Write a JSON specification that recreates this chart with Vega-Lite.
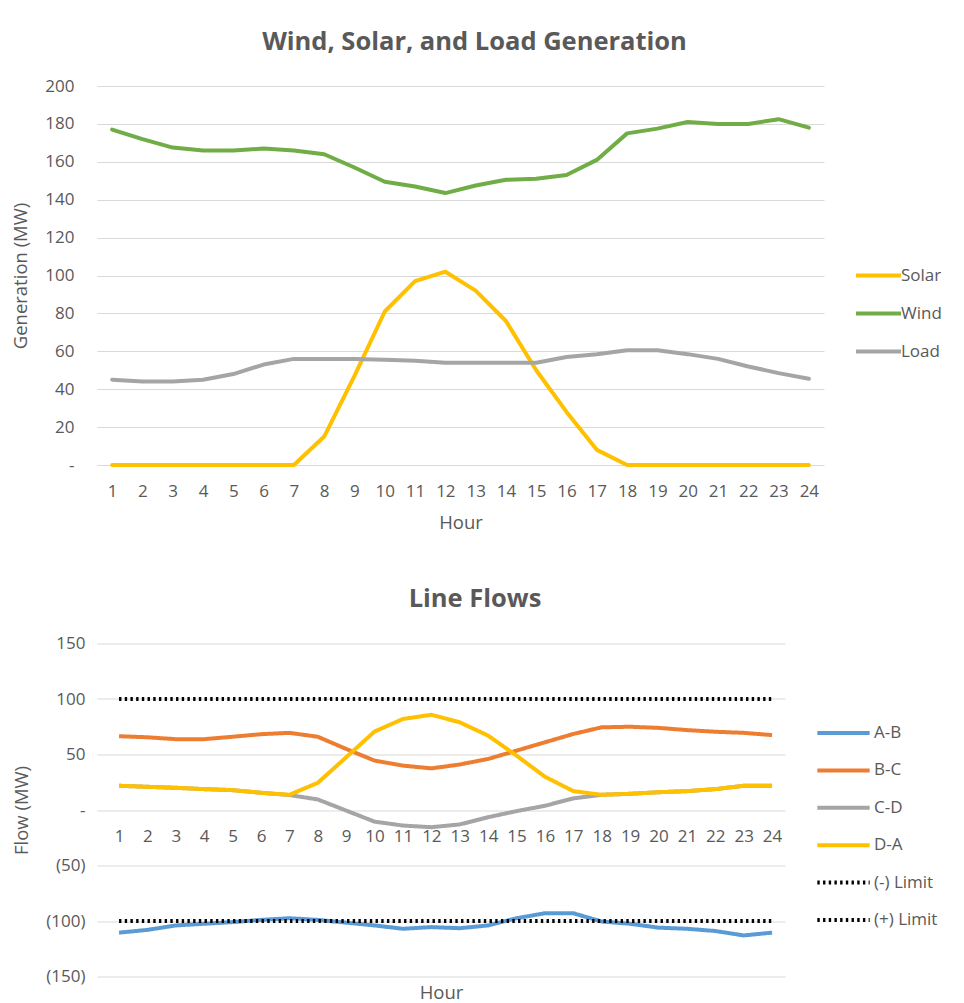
{
  "$schema": "https://vega.github.io/schema/vega-lite/v6.json",
  "padding": {"left": 11, "top": 29, "right": 5, "bottom": 2},
  "spacing": 54.5,
  "resolve": {
    "scale": {"color": "independent", "strokeDash": "independent", "strokeWidth": "independent"},
    "legend": {"color": "independent", "strokeDash": "independent", "strokeWidth": "independent"}
  },
  "config": {
    "font": "Open Sans",
    "view": {"stroke": null},
    "axis": {
      "labelFont": "Open Sans", "labelFontSize": 17, "labelColor": "#595959",
      "titleFont": "Open Sans", "titleFontSize": 18.5, "titleColor": "#595959", "titleFontWeight": "normal",
      "domain": false, "ticks": false, "gridColor": "#d9d9d9", "gridWidth": 1.2
    },
    "legend": {
      "labelFont": "Open Sans", "labelFontSize": 17, "labelColor": "#595959",
      "symbolType": "stroke", "symbolStrokeWidth": 4, "labelOffset": -2
    },
    "title": {"font": "Open Sans", "fontSize": 25.5, "fontWeight": "bold", "color": "#595959"}
  },
  "vconcat": [
    {
      "width": 727, "height": 379,
      "title": {"text": "Wind, Solar, and Load Generation", "offset": 22, "dx": 14},
      "data": {"values": [
        {"hour":1,"series":"Solar","mw":0},{"hour":2,"series":"Solar","mw":0},{"hour":3,"series":"Solar","mw":0},{"hour":4,"series":"Solar","mw":0},{"hour":5,"series":"Solar","mw":0},{"hour":6,"series":"Solar","mw":0},{"hour":7,"series":"Solar","mw":0},{"hour":8,"series":"Solar","mw":15},{"hour":9,"series":"Solar","mw":47},{"hour":10,"series":"Solar","mw":81},{"hour":11,"series":"Solar","mw":97},{"hour":12,"series":"Solar","mw":102},{"hour":13,"series":"Solar","mw":92},{"hour":14,"series":"Solar","mw":76},{"hour":15,"series":"Solar","mw":50},{"hour":16,"series":"Solar","mw":28},{"hour":17,"series":"Solar","mw":8},{"hour":18,"series":"Solar","mw":0},{"hour":19,"series":"Solar","mw":0},{"hour":20,"series":"Solar","mw":0},{"hour":21,"series":"Solar","mw":0},{"hour":22,"series":"Solar","mw":0},{"hour":23,"series":"Solar","mw":0},{"hour":24,"series":"Solar","mw":0},
        {"hour":1,"series":"Wind","mw":177},{"hour":2,"series":"Wind","mw":172},{"hour":3,"series":"Wind","mw":167.5},{"hour":4,"series":"Wind","mw":166},{"hour":5,"series":"Wind","mw":166},{"hour":6,"series":"Wind","mw":167},{"hour":7,"series":"Wind","mw":166},{"hour":8,"series":"Wind","mw":164},{"hour":9,"series":"Wind","mw":157},{"hour":10,"series":"Wind","mw":149.5},{"hour":11,"series":"Wind","mw":147},{"hour":12,"series":"Wind","mw":143.5},{"hour":13,"series":"Wind","mw":147.5},{"hour":14,"series":"Wind","mw":150.5},{"hour":15,"series":"Wind","mw":151},{"hour":16,"series":"Wind","mw":153},{"hour":17,"series":"Wind","mw":161},{"hour":18,"series":"Wind","mw":175},{"hour":19,"series":"Wind","mw":177.5},{"hour":20,"series":"Wind","mw":181},{"hour":21,"series":"Wind","mw":180},{"hour":22,"series":"Wind","mw":180},{"hour":23,"series":"Wind","mw":182.5},{"hour":24,"series":"Wind","mw":178},
        {"hour":1,"series":"Load","mw":45},{"hour":2,"series":"Load","mw":44},{"hour":3,"series":"Load","mw":44},{"hour":4,"series":"Load","mw":45},{"hour":5,"series":"Load","mw":48},{"hour":6,"series":"Load","mw":53},{"hour":7,"series":"Load","mw":56},{"hour":8,"series":"Load","mw":56},{"hour":9,"series":"Load","mw":56},{"hour":10,"series":"Load","mw":55.5},{"hour":11,"series":"Load","mw":55},{"hour":12,"series":"Load","mw":54},{"hour":13,"series":"Load","mw":54},{"hour":14,"series":"Load","mw":54},{"hour":15,"series":"Load","mw":54},{"hour":16,"series":"Load","mw":57},{"hour":17,"series":"Load","mw":58.5},{"hour":18,"series":"Load","mw":60.5},{"hour":19,"series":"Load","mw":60.5},{"hour":20,"series":"Load","mw":58.5},{"hour":21,"series":"Load","mw":56},{"hour":22,"series":"Load","mw":52},{"hour":23,"series":"Load","mw":48.5},{"hour":24,"series":"Load","mw":45.5}
      ]},
      "mark": {"type": "line", "strokeWidth": 4, "strokeCap": "round", "strokeJoin": "round"},
      "encoding": {
        "x": {"field": "hour", "type": "ordinal", "scale": {"type": "point", "padding": 0.5},
              "axis": {"title": "Hour", "labelAngle": 0, "labelPadding": 18, "titlePadding": 14, "grid": false}},
        "y": {"field": "mw", "type": "quantitative", "scale": {"domain": [0, 200], "nice": false},
              "axis": {"title": "Generation (MW)", "values": [0,20,40,60,80,100,120,140,160,180,200],
                       "labelExpr": "datum.value == 0 ? '-\u00a0\u00a0\u00a0' : datum.label", "labelPadding": 23, "titlePadding": 14}},
        "color": {"field": "series", "type": "nominal",
                  "scale": {"domain": ["Solar", "Wind", "Load"], "range": ["#FFC000", "#70AD47", "#A5A5A5"]},
                  "legend": {"title": null, "orient": "none", "legendX": 757, "legendY": 165, "symbolSize": 2025, "rowPadding": 5}}
      }
    },
    {
      "width": 688, "height": 333,
      "title": {"text": "Line Flows", "offset": 22, "dx": 34},
      "data": {"values": [
        {"hour":1,"line":"A-B","mw":-110.5},{"hour":2,"line":"A-B","mw":-108},{"hour":3,"line":"A-B","mw":-104},{"hour":4,"line":"A-B","mw":-102.5},{"hour":5,"line":"A-B","mw":-101},{"hour":6,"line":"A-B","mw":-99},{"hour":7,"line":"A-B","mw":-97.5},{"hour":8,"line":"A-B","mw":-99},{"hour":9,"line":"A-B","mw":-101.5},{"hour":10,"line":"A-B","mw":-104},{"hour":11,"line":"A-B","mw":-107},{"hour":12,"line":"A-B","mw":-105.5},{"hour":13,"line":"A-B","mw":-106.5},{"hour":14,"line":"A-B","mw":-104},{"hour":15,"line":"A-B","mw":-97.5},{"hour":16,"line":"A-B","mw":-93},{"hour":17,"line":"A-B","mw":-93},{"hour":18,"line":"A-B","mw":-100.5},{"hour":19,"line":"A-B","mw":-102.5},{"hour":20,"line":"A-B","mw":-106},{"hour":21,"line":"A-B","mw":-107},{"hour":22,"line":"A-B","mw":-109},{"hour":23,"line":"A-B","mw":-113},{"hour":24,"line":"A-B","mw":-110.5},
        {"hour":1,"line":"B-C","mw":66.5},{"hour":2,"line":"B-C","mw":65.5},{"hour":3,"line":"B-C","mw":63.8},{"hour":4,"line":"B-C","mw":63.8},{"hour":5,"line":"B-C","mw":66},{"hour":6,"line":"B-C","mw":68.3},{"hour":7,"line":"B-C","mw":69.5},{"hour":8,"line":"B-C","mw":66},{"hour":9,"line":"B-C","mw":55},{"hour":10,"line":"B-C","mw":44.5},{"hour":11,"line":"B-C","mw":40},{"hour":12,"line":"B-C","mw":37.5},{"hour":13,"line":"B-C","mw":41},{"hour":14,"line":"B-C","mw":46},{"hour":15,"line":"B-C","mw":53.5},{"hour":16,"line":"B-C","mw":61},{"hour":17,"line":"B-C","mw":68.5},{"hour":18,"line":"B-C","mw":74.5},{"hour":19,"line":"B-C","mw":75},{"hour":20,"line":"B-C","mw":74},{"hour":21,"line":"B-C","mw":72},{"hour":22,"line":"B-C","mw":70.5},{"hour":23,"line":"B-C","mw":69.5},{"hour":24,"line":"B-C","mw":67.5},
        {"hour":1,"line":"C-D","mw":21.8},{"hour":2,"line":"C-D","mw":20.9},{"hour":3,"line":"C-D","mw":20},{"hour":4,"line":"C-D","mw":18.8},{"hour":5,"line":"C-D","mw":17.9},{"hour":6,"line":"C-D","mw":15.5},{"hour":7,"line":"C-D","mw":13.5},{"hour":8,"line":"C-D","mw":9.5},{"hour":9,"line":"C-D","mw":-0.5},{"hour":10,"line":"C-D","mw":-10.5},{"hour":11,"line":"C-D","mw":-14},{"hour":12,"line":"C-D","mw":-15.5},{"hour":13,"line":"C-D","mw":-13},{"hour":14,"line":"C-D","mw":-6.5},{"hour":15,"line":"C-D","mw":-1},{"hour":16,"line":"C-D","mw":3.8},{"hour":17,"line":"C-D","mw":10.5},{"hour":18,"line":"C-D","mw":13.7},{"hour":19,"line":"C-D","mw":14.6},{"hour":20,"line":"C-D","mw":16},{"hour":21,"line":"C-D","mw":17},{"hour":22,"line":"C-D","mw":18.8},{"hour":23,"line":"C-D","mw":21.8},{"hour":24,"line":"C-D","mw":21.8},
        {"hour":1,"line":"D-A","mw":21.8},{"hour":2,"line":"D-A","mw":20.9},{"hour":3,"line":"D-A","mw":20},{"hour":4,"line":"D-A","mw":18.8},{"hour":5,"line":"D-A","mw":17.9},{"hour":6,"line":"D-A","mw":15.5},{"hour":7,"line":"D-A","mw":13.7},{"hour":8,"line":"D-A","mw":24.5},{"hour":9,"line":"D-A","mw":47.5},{"hour":10,"line":"D-A","mw":70.7},{"hour":11,"line":"D-A","mw":82},{"hour":12,"line":"D-A","mw":85.8},{"hour":13,"line":"D-A","mw":79},{"hour":14,"line":"D-A","mw":67},{"hour":15,"line":"D-A","mw":49},{"hour":16,"line":"D-A","mw":30},{"hour":17,"line":"D-A","mw":17},{"hour":18,"line":"D-A","mw":13.7},{"hour":19,"line":"D-A","mw":14.6},{"hour":20,"line":"D-A","mw":16},{"hour":21,"line":"D-A","mw":17},{"hour":22,"line":"D-A","mw":18.8},{"hour":23,"line":"D-A","mw":21.8},{"hour":24,"line":"D-A","mw":21.8},
        {"hour":1,"line":"(-) Limit","mw":-100},{"hour":24,"line":"(-) Limit","mw":-100},
        {"hour":1,"line":"(+) Limit","mw":100},{"hour":24,"line":"(+) Limit","mw":100}
      ]},
      "mark": {"type": "line", "strokeCap": "butt", "strokeJoin": "round"},
      "encoding": {
        "x": {"field": "hour", "type": "ordinal", "scale": {"type": "point", "padding": 0.616, "align": 0.63},
              "axis": {"title": "Hour", "labelAngle": 0, "labelPadding": 18, "offset": -166.5, "titleY": 173, "grid": false}},
        "y": {"field": "mw", "type": "quantitative", "scale": {"domain": [-150, 150], "nice": false},
              "axis": {"title": "Flow (MW)", "values": [-150,-100,-50,0,50,100,150],
                       "labelExpr": "datum.value < 0 ? '(' + format(-datum.value, 'd') + ')' : (datum.value == 0 ? '-\u00a0\u00a0\u00a0\u00a0' : datum.label + '\u00a0')", "labelPadding": 12, "titlePadding": 14}},
        "color": {"field": "line", "type": "nominal",
                  "scale": {"domain": ["A-B", "B-C", "C-D", "D-A", "(-) Limit", "(+) Limit"], "range": ["#5B9BD5", "#ED7D31", "#A5A5A5", "#FFC000", "#000000", "#000000"]},
                  "legend": {"title": null, "orient": "none", "legendX": 718, "legendY": 61, "symbolSize": 2738, "rowPadding": 0.4, "labelOffset": 2}},
        "strokeDash": {"field": "line", "type": "nominal",
                  "scale": {"domain": ["A-B", "B-C", "C-D", "D-A", "(-) Limit", "(+) Limit"], "range": [[1,0],[1,0],[1,0],[1,0],[2.4,3.3],[2.4,3.3]]},
                  "legend": {"title": null, "orient": "none", "legendX": 718, "legendY": 61, "symbolSize": 2738, "rowPadding": 0.4, "labelOffset": 2}},
        "strokeWidth": {"field": "line", "type": "nominal",
                  "scale": {"domain": ["A-B", "B-C", "C-D", "D-A", "(-) Limit", "(+) Limit"], "range": [4,4,4,4,2.4,2.4]},
                  "legend": {"title": null, "orient": "none", "legendX": 718, "legendY": 61, "symbolSize": 2738, "rowPadding": 0.4, "labelOffset": 2}}
      }
    }
  ]
}
